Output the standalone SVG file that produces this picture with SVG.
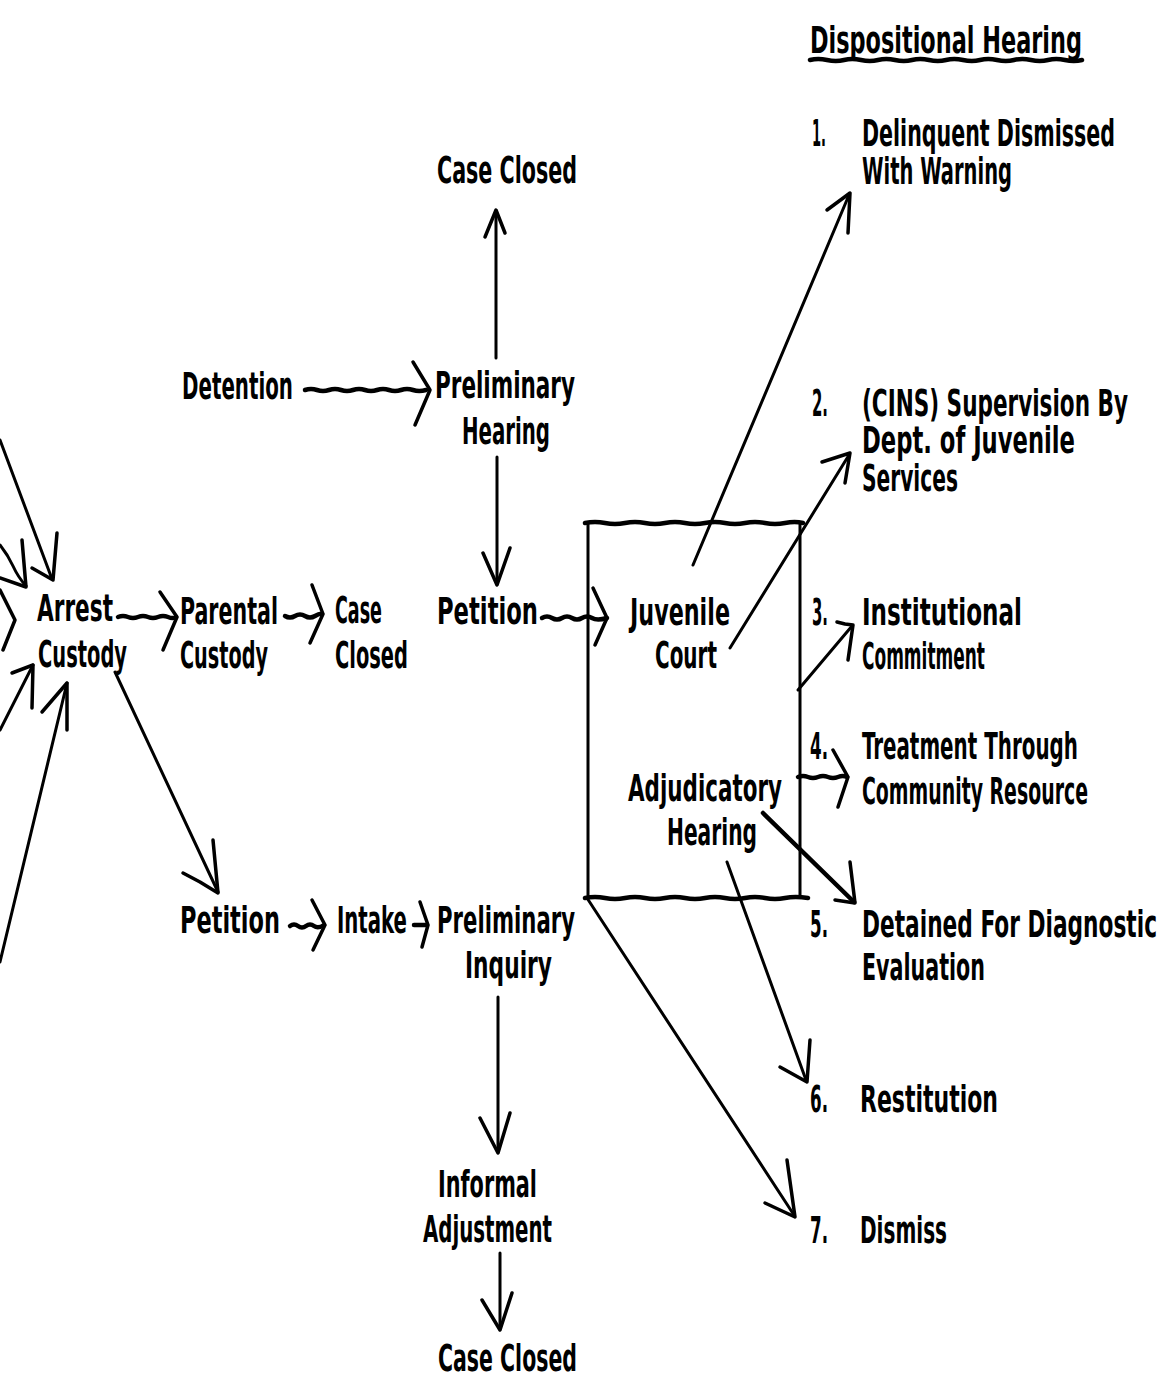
<svg xmlns="http://www.w3.org/2000/svg" width="1159" height="1378" viewBox="0 0 1159 1378">
<style>
.t{font-family:"DejaVu Sans Condensed","Liberation Sans Narrow","Liberation Sans",sans-serif;font-size:24px;font-weight:bold;fill:#000}
.ln{fill:none;stroke:#000;stroke-width:3;stroke-linecap:round}
.wv{fill:none;stroke:#000;stroke-width:4.5;stroke-linecap:round;stroke-linejoin:round}
.ah{fill:none;stroke:#000;stroke-width:3.5;stroke-linecap:round;stroke-linejoin:round}
.box{fill:none;stroke:#000;stroke-width:3}
</style>
<rect width="1159" height="1378" fill="#fff"/>

<g id="connectors">
  <line class="ln" x1="0" y1="440" x2="52" y2="579"/>
  <polyline class="ah" points="57,533 53,580 32,568"/>
  <path class="ln" d="M0,545 Q8,555 13,566 T26,586"/>
  <polyline class="ah" points="22,540 26,587 0,578"/>
  <polyline class="ah" points="0,590 15,620 3,650"/>
  <line class="ln" x1="0" y1="730" x2="33" y2="665"/>
  <polyline class="ah" points="12,673 33,665 32,708"/>
  <line class="ln" x1="0" y1="962" x2="67" y2="683"/>
  <polyline class="ah" points="42,712 67,683 67,730"/>

  <path class="wv" d="M118,617 q5,-2 10,0 t10,0 t10,0 t10,0 t10,0 t8,0"/>
  <polyline class="ah" points="160,592 177,617 163,650"/>
  <path class="wv" d="M285,616 q5,3 10,0 t10,0 t10,0 t7,-2"/>
  <polyline class="ah" points="312,585 323,614 310,643"/>
  <path class="wv" d="M305,390 q6,-2 12,0 t12,0 t12,0 t12,0 t12,0 t12,0 t12,0 t12,0 t12,0 t13,0"/>
  <polyline class="ah" points="413,362 430,390 415,425"/>
  <line class="ln" x1="496" y1="358" x2="496" y2="211"/>
  <polyline class="ah" points="485,237 496,210 505,233"/>
  <line class="ln" x1="497" y1="457" x2="497" y2="584"/>
  <polyline class="ah" points="483,553 497,585 510,548"/>
  <path class="wv" d="M542,618 q5,-3 10,0 t10,0 t10,0 t10,0 t10,0 t15,0"/>
  <polyline class="ah" points="593,588 607,618 595,645"/>
  <line class="ln" x1="115" y1="672" x2="218" y2="892"/>
  <polyline class="ah" points="213,840 218,893 200,882 183,873"/>
  <path class="wv" d="M290,926 q4,-3 8,0 t8,0 t8,0 t10,-1"/>
  <polyline class="ah" points="312,900 325,925 313,950"/>
  <line class="wv" x1="414" y1="925" x2="427" y2="925"/>
  <polyline class="ah" points="420,902 428,925 422,947"/>
  <line class="ln" x1="498" y1="997" x2="498" y2="1152"/>
  <polyline class="ah" points="480,1118 498,1153 510,1113"/>
  <line class="ln" x1="500" y1="1253" x2="500" y2="1329"/>
  <polyline class="ah" points="482,1300 500,1330 512,1293"/>

  <line class="ln" x1="693" y1="565" x2="849" y2="195"/>
  <polyline class="ah" points="827,210 850,193 848,233"/>
  <line class="ln" x1="730" y1="648" x2="849" y2="455"/>
  <polyline class="ah" points="822,462 850,453 845,483"/>
  <line class="ln" x1="798" y1="690" x2="852" y2="626"/>
  <polyline class="ah" points="837,622 845,624 853,625 848,660"/>
  <path class="wv" d="M798,777 q5,-2 10,0 t10,0 t10,0 t10,0 t9,0"/>
  <polyline class="ah" points="833,750 848,777 838,807"/>
  <line class="wv" x1="763" y1="813" x2="854" y2="902"/>
  <polyline class="ah" points="850,862 855,903 835,900"/>
  <line class="ln" x1="727" y1="862" x2="806" y2="1080"/>
  <polyline class="ah" points="810,1040 807,1082 780,1067"/>
  <line class="ln" x1="587" y1="898" x2="794" y2="1215"/>
  <polyline class="ah" points="787,1160 795,1217 765,1203"/>
</g>

<g id="n_arrest">
  <text class="t" x="37" y="621" transform="matrix(1,0,0,1.55,0,-341.55)" textLength="76" lengthAdjust="spacingAndGlyphs">Arrest</text>
  <text class="t" x="38" y="667" transform="matrix(1,0,0,1.55,0,-366.85)" textLength="89" lengthAdjust="spacingAndGlyphs">Custody</text>
</g>
<g id="n_parental">
  <text class="t" x="180" y="624" transform="matrix(1,0,0,1.55,0,-343.2)" textLength="98" lengthAdjust="spacingAndGlyphs">Parental</text>
  <text class="t" x="180" y="668" transform="matrix(1,0,0,1.55,0,-367.4)" textLength="88" lengthAdjust="spacingAndGlyphs">Custody</text>
</g>
<g id="n_case_closed_mid">
  <text class="t" x="335" y="623" transform="matrix(1,0,0,1.55,0,-342.65)" textLength="47" lengthAdjust="spacingAndGlyphs">Case</text>
  <text class="t" x="335" y="668" transform="matrix(1,0,0,1.55,0,-367.4)" textLength="73" lengthAdjust="spacingAndGlyphs">Closed</text>
</g>
<g id="n_detention">
  <text class="t" x="182" y="399" transform="matrix(1,0,0,1.55,0,-219.45)" textLength="111" lengthAdjust="spacingAndGlyphs">Detention</text>
</g>
<g id="n_prelim_hearing">
  <text class="t" x="435" y="398" transform="matrix(1,0,0,1.55,0,-218.9)" textLength="140" lengthAdjust="spacingAndGlyphs">Preliminary</text>
  <text class="t" x="462" y="444" transform="matrix(1,0,0,1.55,0,-244.2)" textLength="88" lengthAdjust="spacingAndGlyphs">Hearing</text>
</g>
<g id="n_case_closed_top">
  <text class="t" x="437" y="183" transform="matrix(1,0,0,1.55,0,-100.65)" textLength="140" lengthAdjust="spacingAndGlyphs">Case Closed</text>
</g>
<g id="n_petition_mid">
  <text class="t" x="437" y="624" transform="matrix(1,0,0,1.55,0,-343.2)" textLength="101" lengthAdjust="spacingAndGlyphs">Petition</text>
</g>
<g id="n_court">
  <path class="box" d="M588,523 V898 M800,523 V898"/>
  <path class="wv" d="M585,523 q10,-2 20,0 t20,0 t20,0 t20,0 t20,0 t20,0 t20,0 t20,0 t20,0 t20,0 t18,0"/>
  <path class="wv" d="M585,898 q10,-2 20,0 t20,0 t20,0 t20,0 t20,0 t20,0 t20,0 t20,0 t20,0 t20,0 t23,0"/>
  <text class="t" x="630" y="625" transform="matrix(1,0,0,1.55,0,-343.75)" textLength="100" lengthAdjust="spacingAndGlyphs">Juvenile</text>
  <text class="t" x="655" y="668" transform="matrix(1,0,0,1.55,0,-367.4)" textLength="62" lengthAdjust="spacingAndGlyphs">Court</text>
  <text class="t" x="628" y="801" transform="matrix(1,0,0,1.55,0,-440.55)" textLength="154" lengthAdjust="spacingAndGlyphs">Adjudicatory</text>
  <text class="t" x="667" y="845" transform="matrix(1,0,0,1.55,0,-464.75)" textLength="90" lengthAdjust="spacingAndGlyphs">Hearing</text>
</g>
<g id="n_petition_low">
  <text class="t" x="180" y="933" transform="matrix(1,0,0,1.55,0,-513.15)" textLength="100" lengthAdjust="spacingAndGlyphs">Petition</text>
</g>
<g id="n_intake">
  <text class="t" x="337" y="933" transform="matrix(1,0,0,1.55,0,-513.15)" textLength="70" lengthAdjust="spacingAndGlyphs">Intake</text>
</g>
<g id="n_prelim_inquiry">
  <text class="t" x="437" y="933" transform="matrix(1,0,0,1.55,0,-513.15)" textLength="138" lengthAdjust="spacingAndGlyphs">Preliminary</text>
  <text class="t" x="465" y="978" transform="matrix(1,0,0,1.55,0,-537.9)" textLength="87" lengthAdjust="spacingAndGlyphs">Inquiry</text>
</g>
<g id="n_informal">
  <text class="t" x="438" y="1197" transform="matrix(1,0,0,1.55,0,-658.35)" textLength="99" lengthAdjust="spacingAndGlyphs">Informal</text>
  <text class="t" x="423" y="1242" transform="matrix(1,0,0,1.55,0,-683.1)" textLength="129" lengthAdjust="spacingAndGlyphs">Adjustment</text>
</g>
<g id="n_case_closed_bottom">
  <text class="t" x="438" y="1371" transform="matrix(1,0,0,1.55,0,-754.05)" textLength="139" lengthAdjust="spacingAndGlyphs">Case Closed</text>
</g>

<g id="n_disp_heading">
  <text class="t" x="810" y="53" transform="matrix(1,0,0,1.55,0,-29.15)" textLength="272" lengthAdjust="spacingAndGlyphs">Dispositional Hearing</text>
  <path class="wv" d="M810,60 q8,-2 17,0 t17,0 t17,0 t17,0 t17,0 t17,0 t17,0 t17,0 t17,0 t17,0 t17,0 t17,0 t17,0 t17,0 t17,0 t17,0"/>
</g>
<g id="n_out1">
  <text class="t" x="812" y="146" transform="matrix(1,0,0,1.55,0,-80.3)" textLength="14" lengthAdjust="spacingAndGlyphs">1.</text>
  <text class="t" x="862" y="146" transform="matrix(1,0,0,1.55,0,-80.3)" textLength="253" lengthAdjust="spacingAndGlyphs">Delinquent Dismissed</text>
  <text class="t" x="862" y="184" transform="matrix(1,0,0,1.55,0,-101.2)" textLength="150" lengthAdjust="spacingAndGlyphs">With Warning</text>
</g>
<g id="n_out2">
  <text class="t" x="812" y="416" transform="matrix(1,0,0,1.55,0,-228.8)" textLength="16" lengthAdjust="spacingAndGlyphs">2.</text>
  <text class="t" x="862" y="416" transform="matrix(1,0,0,1.55,0,-228.8)" textLength="266" lengthAdjust="spacingAndGlyphs">(CINS) Supervision By</text>
  <text class="t" x="862" y="453" transform="matrix(1,0,0,1.55,0,-249.15)" textLength="213" lengthAdjust="spacingAndGlyphs">Dept. of Juvenile</text>
  <text class="t" x="862" y="491" transform="matrix(1,0,0,1.55,0,-270.05)" textLength="96" lengthAdjust="spacingAndGlyphs">Services</text>
</g>
<g id="n_out3">
  <text class="t" x="812" y="625" transform="matrix(1,0,0,1.55,0,-343.75)" textLength="16" lengthAdjust="spacingAndGlyphs">3.</text>
  <text class="t" x="862" y="625" transform="matrix(1,0,0,1.55,0,-343.75)" textLength="160" lengthAdjust="spacingAndGlyphs">Institutional</text>
  <text class="t" x="862" y="669" transform="matrix(1,0,0,1.55,0,-367.95)" textLength="123" lengthAdjust="spacingAndGlyphs">Commitment</text>
</g>
<g id="n_out4">
  <text class="t" x="810" y="759" transform="matrix(1,0,0,1.55,0,-417.45)" textLength="18" lengthAdjust="spacingAndGlyphs">4.</text>
  <text class="t" x="862" y="759" transform="matrix(1,0,0,1.55,0,-417.45)" textLength="216" lengthAdjust="spacingAndGlyphs">Treatment Through</text>
  <text class="t" x="862" y="804" transform="matrix(1,0,0,1.55,0,-442.2)" textLength="226" lengthAdjust="spacingAndGlyphs">Community Resource</text>
</g>
<g id="n_out5">
  <text class="t" x="810" y="937" transform="matrix(1,0,0,1.55,0,-515.35)" textLength="18" lengthAdjust="spacingAndGlyphs">5.</text>
  <text class="t" x="862" y="937" transform="matrix(1,0,0,1.55,0,-515.35)" textLength="295" lengthAdjust="spacingAndGlyphs">Detained For Diagnostic</text>
  <text class="t" x="862" y="980" transform="matrix(1,0,0,1.55,0,-539)" textLength="123" lengthAdjust="spacingAndGlyphs">Evaluation</text>
</g>
<g id="n_out6">
  <text class="t" x="810" y="1112" transform="matrix(1,0,0,1.55,0,-611.6)" textLength="18" lengthAdjust="spacingAndGlyphs">6.</text>
  <text class="t" x="860" y="1112" transform="matrix(1,0,0,1.55,0,-611.6)" textLength="138" lengthAdjust="spacingAndGlyphs">Restitution</text>
</g>
<g id="n_out7">
  <text class="t" x="810" y="1243" transform="matrix(1,0,0,1.55,0,-683.65)" textLength="18" lengthAdjust="spacingAndGlyphs">7.</text>
  <text class="t" x="860" y="1243" transform="matrix(1,0,0,1.55,0,-683.65)" textLength="87" lengthAdjust="spacingAndGlyphs">Dismiss</text>
</g>
</svg>
